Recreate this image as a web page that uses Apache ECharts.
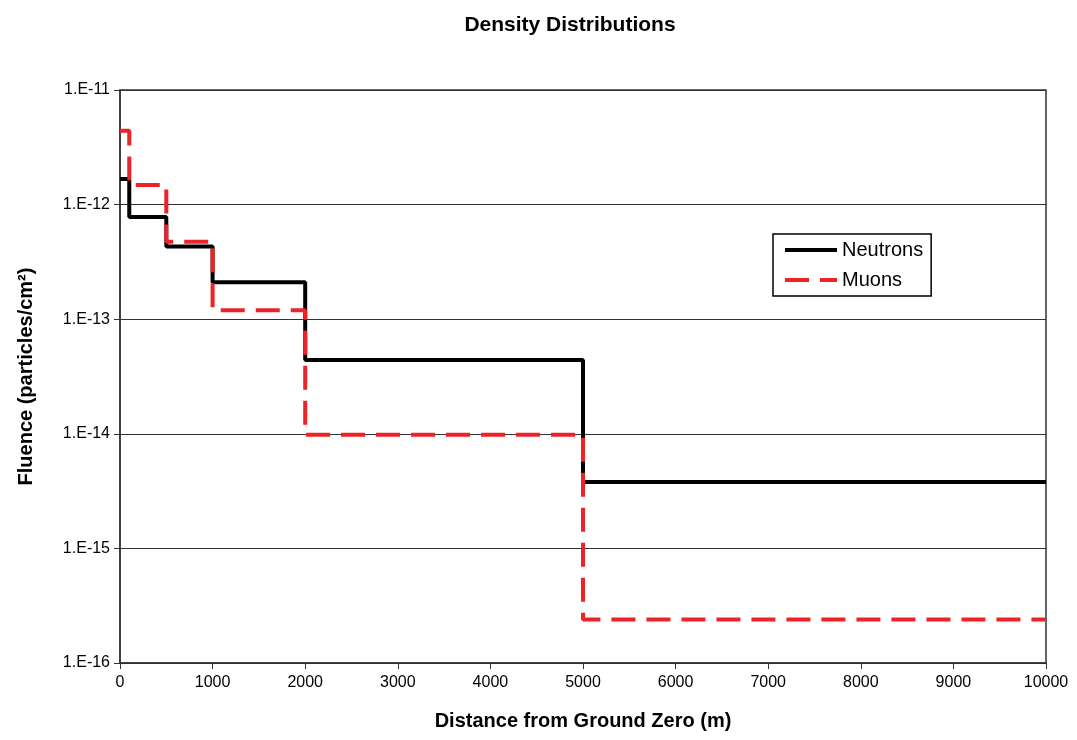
<!DOCTYPE html>
<html>
<head>
<meta charset="utf-8">
<script src="https://cdn.jsdelivr.net/npm/echarts@6/dist/echarts.min.js"></script>
<style>
  html, body { margin: 0; padding: 0; background: #fff; }
  #chart { width: 1077px; height: 740px; }
</style>
</head>
<body>
<div id="chart"></div>
<script>
// step starts (m) - last point repeats the final value to close the step
const distances = [0, 100, 500, 1000, 2000, 5000, 10000];
const neutrons = [1.67e-12, 7.8e-13, 4.3e-13, 2.1e-13, 4.4e-14, 3.8e-15, 3.8e-15];
const muons = [4.4e-12, 1.48e-12, 4.75e-13, 1.2e-13, 9.8e-15, 2.4e-16, 2.4e-16];

const font = 'Liberation Sans, Arial, sans-serif';

function pairs(ys) {
  return distances.map((d, i) => [d, ys[i]]);
}

const chart = echarts.init(document.getElementById('chart'));

chart.setOption({
  animation: false,
  backgroundColor: '#fff',
  title: {
    text: 'Density Distributions',
    left: 565, top: 10, textAlign: 'center',
    textStyle: { fontFamily: font, fontSize: 21, fontWeight: 'bold', color: '#000' }
  },
  grid: {
    left: 120, right: 31, top: 90, bottom: 77,
    show: true, borderColor: '#333', borderWidth: 1.5
  },
  legend: {
    orient: 'vertical',
    left: 773, top: 234,
    padding: [6, 8, 6, 10],
    itemGap: 10,
    itemWidth: 52,
    itemHeight: 14,
    borderColor: '#000', borderWidth: 1.5,
    backgroundColor: '#fff',
    itemStyle: { opacity: 0 },
    lineStyle: { width: 4 },
    textStyle: { fontFamily: font, fontSize: 20, color: '#000' },
    data: ['Neutrons', 'Muons']
  },
  xAxis: {
    type: 'value',
    min: 0, max: 10000, interval: 1000,
    name: 'Distance from Ground Zero (m)',
    nameLocation: 'middle', nameGap: 48,
    nameTextStyle: { fontFamily: font, fontSize: 20, fontWeight: 'bold', color: '#000' },
    axisLine: { lineStyle: { color: '#333', width: 1.5 } },
    axisTick: { show: true, length: 6, lineStyle: { color: '#333' } },
    axisLabel: { fontFamily: font, fontSize: 16, color: '#000', margin: 12, formatter: v => String(v) },
    splitLine: { show: false }
  },
  yAxis: {
    type: 'log', logBase: 10,
    min: 1e-16, max: 1e-11,
    splitNumber: 5,
    name: 'Fluence (particles/cm²)',
    nameLocation: 'middle', nameGap: 84,
    nameTextStyle: { fontFamily: font, fontSize: 20, fontWeight: 'bold', color: '#000' },
    axisLine: { show: true, lineStyle: { color: '#333', width: 1.5 } },
    axisTick: { show: true, length: 6, lineStyle: { color: '#333' } },
    axisLabel: {
      fontFamily: font, fontSize: 16, color: '#000', margin: 10,
      formatter: v => '1.E' + Math.round(Math.log10(v))
    },
    splitLine: { show: true, lineStyle: { color: '#333', width: 1 } }
  },
  series: [
    {
      name: 'Neutrons', type: 'line', step: 'end',
      data: pairs(neutrons), symbol: 'none',
      lineStyle: { color: '#000', width: 4 },
      itemStyle: { color: '#000' }
    },
    {
      name: 'Muons', type: 'line', step: 'end',
      data: pairs(muons), symbol: 'none',
      lineStyle: { color: '#ee2229', width: 4, type: [24, 11] },
      itemStyle: { color: '#ee2229' }
    }
  ]
});
</script>
</body>
</html>
